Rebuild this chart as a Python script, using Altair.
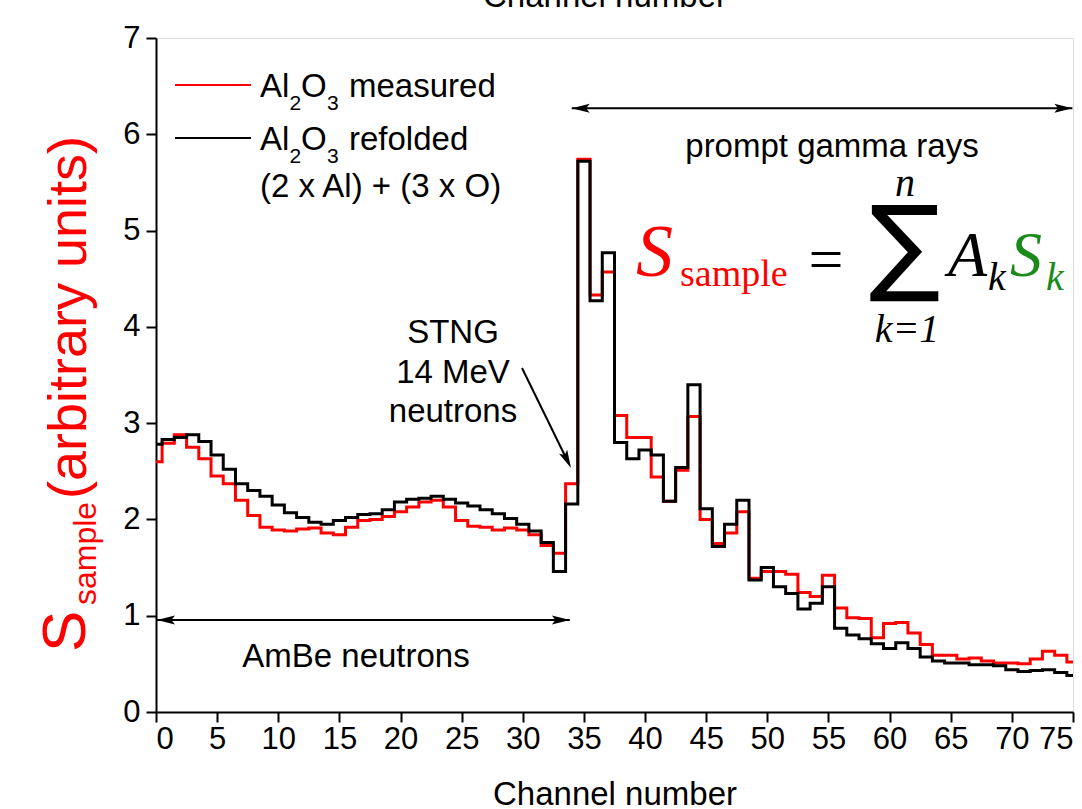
import altair as alt
import pandas as pd

# ---------------- data ----------------
channels = list(range(76))
measured = [2.60, 2.79, 2.88, 2.75, 2.63, 2.45, 2.37, 2.20, 2.04, 1.92,
            1.89, 1.88, 1.90, 1.91, 1.86, 1.84, 1.92, 1.99, 2.00, 2.03,
            2.08, 2.13, 2.18, 2.20, 2.13, 1.99, 1.93, 1.92, 1.89, 1.91,
            1.89, 1.84, 1.73, 1.65, 2.37, 5.74, 4.33, 4.57, 3.08, 2.85,
            2.85, 2.44, 2.19, 2.51, 3.07, 2.00, 1.75, 1.86, 2.08, 1.39,
            1.46, 1.46, 1.43, 1.24, 1.20, 1.42, 1.08, 0.98, 0.97, 0.77,
            0.92, 0.93, 0.82, 0.70, 0.59, 0.59, 0.55, 0.56, 0.53, 0.51,
            0.51, 0.50, 0.55, 0.63, 0.59, 0.52]
refolded = [2.78, 2.83, 2.85, 2.88, 2.81, 2.67, 2.52, 2.37, 2.30, 2.24,
            2.15, 2.07, 2.02, 1.97, 1.95, 1.99, 2.02, 2.05, 2.06, 2.10,
            2.18, 2.21, 2.22, 2.24, 2.21, 2.17, 2.14, 2.10, 2.06, 2.01,
            1.95, 1.88, 1.76, 1.46, 2.16, 5.72, 4.27, 4.77, 2.80, 2.63,
            2.72, 2.67, 2.19, 2.54, 3.40, 2.11, 1.72, 1.95, 2.20, 1.37,
            1.50, 1.30, 1.23, 1.07, 1.13, 1.30, 0.87, 0.80, 0.76, 0.71,
            0.66, 0.72, 0.66, 0.57, 0.53, 0.51, 0.51, 0.49, 0.49, 0.48,
            0.44, 0.42, 0.43, 0.44, 0.41, 0.38]

x_ticks = list(range(0, 76, 5))
y_ticks = list(range(0, 8))

# double-headed arrows (data coordinates)
arrow_x1 = [0.08, 34.0]
arrow_x2 = [33.85, 74.95]
arrow_y = [0.955, 6.27]

# ---------------- layout ----------------
W, H = 917, 674
OX, OY = 156, 38

df_m = pd.DataFrame({"ch": channels, "v": measured})
df_r = pd.DataFrame({"ch": channels, "v": refolded})

xs = alt.Scale(domain=[0, 75], nice=False, zero=False)
ys = alt.Scale(domain=[0, 7], nice=False)

xaxis = alt.Axis(values=x_ticks, title=None, labelFontSize=31, labelFont="Liberation Sans",
                 tickSize=10, tickWidth=2, domainWidth=2, labelPadding=2, format="d",
                 labelColor="black", tickColor="black", domainColor="black", grid=False)
yaxis = alt.Axis(values=y_ticks, title=None, labelFontSize=31, labelFont="Liberation Sans",
                 tickSize=10, tickWidth=2, domainWidth=2, labelPadding=6, format="d",
                 labelColor="black", tickColor="black", domainColor="black", grid=False)

red_line = alt.Chart(df_m).mark_line(interpolate="step", color="#ff0000", strokeWidth=3).encode(
    x=alt.X("ch:Q", scale=xs, axis=xaxis),
    y=alt.Y("v:Q", scale=ys, axis=yaxis),
)
black_line = alt.Chart(df_r).mark_line(interpolate="step", color="#000000", strokeWidth=3).encode(
    x=alt.X("ch:Q", scale=xs),
    y=alt.Y("v:Q", scale=ys),
)

adf = pd.DataFrame({"x1": arrow_x1, "x2": arrow_x2, "y": arrow_y})
arrow_lines = alt.Chart(adf).mark_rule(color="black", strokeWidth=2).encode(
    x=alt.X("x1:Q", scale=xs), x2="x2:Q", y=alt.Y("y:Q", scale=ys))

HEAD = "M0,0L0.5,2L0,1.6L-0.5,2Z"
left_heads = alt.Chart(adf).mark_point(shape=HEAD, filled=True, color="black", size=324,
                                       angle=270, opacity=1).encode(
    x=alt.X("x1:Q", scale=xs), y=alt.Y("y:Q", scale=ys))
right_heads = alt.Chart(adf).mark_point(shape=HEAD, filled=True, color="black", size=324,
                                        angle=90, opacity=1).encode(
    x=alt.X("x2:Q", scale=xs), y=alt.Y("y:Q", scale=ys))

one = pd.DataFrame({"a": [0]})


def T(s, x, y, size, color="black", align="left", font="Liberation Sans",
      style="normal", angle=0, baseline="alphabetic"):
    return alt.Chart(one).mark_text(text=s, fontSize=size, color=color, align=align,
                                    font=font, fontStyle=style, angle=angle,
                                    baseline=baseline).encode(
        x=alt.value(x - OX), y=alt.value(y - OY))


def R(x1, y1, x2, y2, color="black", width=2):
    return alt.Chart(one).mark_rule(color=color, strokeWidth=width).encode(
        x=alt.value(x1 - OX), y=alt.value(y1 - OY),
        x2=alt.value(x2 - OX), y2=alt.value(y2 - OY))


# STNG arrow (pixel annotation)
stng_line = R(522, 368, 568, 462)
stng_head = alt.Chart(one).mark_point(shape=HEAD, filled=True, color="black", size=324,
                                      angle=154, opacity=1).encode(
    x=alt.value(571 - OX), y=alt.value(468 - OY))

texts = [
    # legend
    R(175, 85, 251, 85, color="#ff0000", width=2),
    R(175, 138, 251, 138, color="black", width=2),
    T("Al", 260, 97, 33), T("2", 289.5, 110, 21), T("O", 301, 97, 33), T("3", 327, 110, 21),
    T("measured", 349, 97, 33),
    T("Al", 260, 150, 33), T("2", 289.5, 163, 21), T("O", 301, 150, 33), T("3", 327, 163, 21),
    T("refolded", 349, 150, 33),
    T("(2 x Al) + (3 x O)", 260, 197, 33),
    # annotations
    T("prompt gamma rays", 832, 157, 33, align="center"),
    T("AmBe neutrons", 356, 667, 33, align="center"),
    T("STNG", 453, 343, 33, align="center"),
    T("14 MeV", 453, 383, 33, align="center"),
    T("neutrons", 453, 422, 33, align="center"),
    # axis titles
    T("Channel number", 615, 805, 33, align="center"),
    T("Channel number", 605, 7, 33, align="center"),
    T("S", 85, 652, 62, color="#ff0000", angle=270),
    T("sample", 96, 605, 32, color="#ff0000", angle=270),
    T("(arbitrary units)", 86, 499, 54, color="#ff0000", angle=270),
    # formula
    T("S", 636, 276, 74, color="#ff0000", font="Liberation Serif", style="italic"),
    T("sample", 680, 286, 38, color="#ff0000", font="Liberation Serif"),
    T("=", 826, 280, 62, align="center", font="Liberation Serif"),
    T("\u2211", 905, 281, 106, align="center", font="DejaVu Sans"),
    T("n", 905, 196, 40, align="center", font="Liberation Serif", style="italic"),
    T("k=1", 907, 342, 40, align="center", font="Liberation Serif", style="italic"),
    T("A", 948, 276, 64, font="Liberation Serif", style="italic"),
    T("k", 988, 290, 40, font="Liberation Serif", style="italic"),
    T("S", 1010, 276, 64, color="#1a8a1a", font="Liberation Serif", style="italic"),
    T("k", 1046, 290, 40, color="#1a8a1a", font="Liberation Serif", style="italic"),
]

chart = alt.layer(
    red_line, black_line, arrow_lines, left_heads, right_heads, stng_line, stng_head, *texts
).properties(
    width=W, height=H,
    autosize=alt.AutoSizeParams(type="none"),
    padding={"left": OX, "top": OY, "right": 1082 - OX - W, "bottom": 809 - OY - H},
).configure_view(stroke="black", strokeWidth=2).configure(background="white")

chart.save("out.html", embed_options={"renderer": "svg", "actions": False})
